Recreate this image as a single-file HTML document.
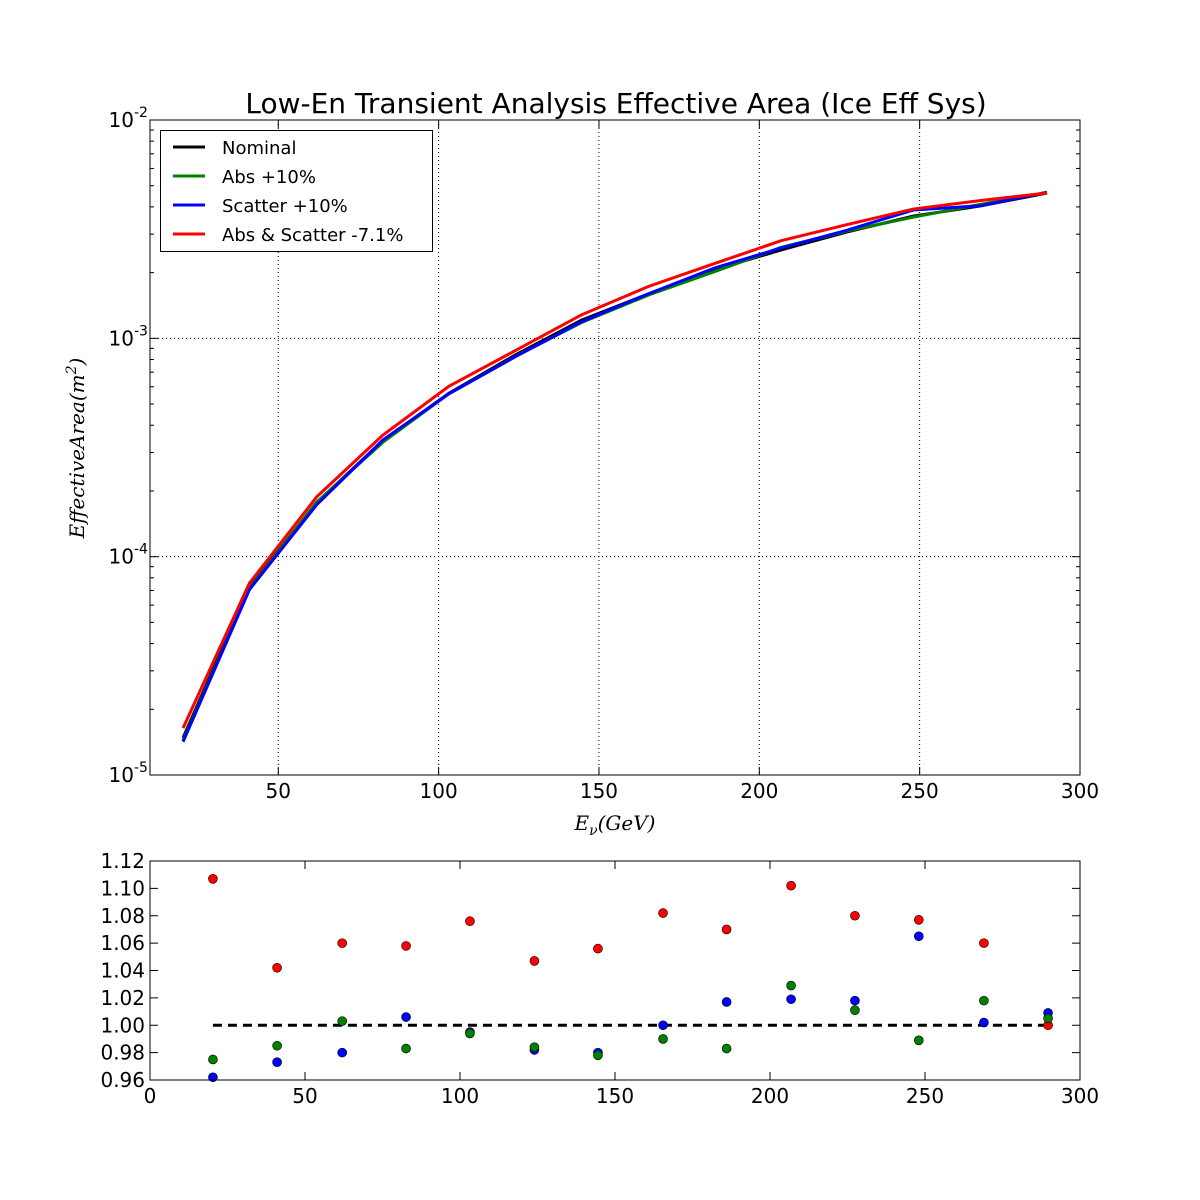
<!DOCTYPE html>
<html><head><meta charset="utf-8"><style>
html,body{margin:0;padding:0;background:#fff;}
svg{display:block;font-family:"DejaVu Sans","Liberation Sans",sans-serif;}
</style></head><body>
<svg id="chart" width="1200" height="1200" viewBox="0 0 1200 1200">
<rect x="0" y="0" width="1200" height="1200" fill="#fff"/>
<text x="616" y="113" font-size="28" text-anchor="middle">Low-En Transient Analysis Effective Area (Ice Eff Sys)</text>
<g id="topPanel"></g>
<g id="botPanel"></g>
<text x="615" y="830" font-size="20" font-style="italic" font-family="DejaVu Serif,serif" text-anchor="middle">E<tspan font-size="14" dy="5">ν</tspan><tspan dy="-5">(GeV)</tspan></text>
<text transform="translate(84,448) rotate(-90)" font-size="20" font-style="italic" font-family="DejaVu Serif,serif" text-anchor="middle">EffectiveArea(m<tspan font-size="14" dy="-8">2</tspan><tspan dy="8">)</tspan></text>
</svg>
<script>
const energies=[20.3,41,62,82.6,103.2,124,144.5,165.5,186,206.8,227.4,248,269,289.7];
const nominal=[1.48e-5,7.26e-5,1.77e-4,3.4e-4,5.6e-4,8.4e-4,1.21e-3,1.6e-3,2.06e-3,2.54e-3,3.07e-3,3.63e-3,4.04e-3,4.63e-3];
const absPlus=[1.44e-5,7.15e-5,1.78e-4,3.34e-4,5.57e-4,8.27e-4,1.18e-3,1.58e-3,2.02e-3,2.61e-3,3.1e-3,3.59e-3,4.11e-3,4.65e-3];
const scatPlus=[1.42e-5,7.06e-5,1.73e-4,3.42e-4,5.57e-4,8.25e-4,1.19e-3,1.6e-3,2.1e-3,2.59e-3,3.13e-3,3.87e-3,4.05e-3,4.67e-3];
const absScat=[1.64e-5,7.56e-5,1.88e-4,3.6e-4,6.03e-4,8.8e-4,1.28e-3,1.73e-3,2.2e-3,2.8e-3,3.32e-3,3.91e-3,4.28e-3,4.63e-3];
const ratioRed=[1.107,1.042,1.060,1.058,1.076,1.047,1.056,1.082,1.070,1.102,1.080,1.077,1.060,1.000];
const ratioBlue=[0.962,0.973,0.980,1.006,0.995,0.982,0.980,1.000,1.017,1.019,1.018,1.065,1.002,1.009];
const ratioGreen=[0.975,0.985,1.003,0.983,0.994,0.984,0.978,0.990,0.983,1.029,1.011,0.989,1.018,1.005];
const topXTicks=[50,100,150,200,250,300];
const botXTicks=[0,50,100,150,200,250,300];
const botYTicks=[0.96,0.98,1.00,1.02,1.04,1.06,1.08,1.10,1.12];
const decades=[-5,-4,-3,-2];

const NS="http://www.w3.org/2000/svg";
function mk(p,t,a){const e=document.createElementNS(NS,t);for(const k in a)e.setAttribute(k,a[k]);p.appendChild(e);return e;}
const T={l:150,r:1080,t:120,b:775};
const B={l:150,r:1080,t:861,b:1080};
const tx=v=>T.l+(v-10)/(300-10)*(T.r-T.l);
const ty=v=>T.t+(-2-Math.log10(v))/3*(T.b-T.t);
const bx=v=>B.l+v/300*(B.r-B.l);
const by=v=>B.b-(v-0.96)/0.16*(B.b-B.t);
const topG=document.getElementById('topPanel'),botG=document.getElementById('botPanel');

topXTicks.forEach(v=>{const x=tx(v);
 if(v<300){const g=mk(topG,'line',{x1:x,x2:x,y1:T.t,y2:T.b,stroke:'#000','stroke-dasharray':'1,3','stroke-width':1});
 }
 mk(topG,'line',{x1:x,x2:x,y1:T.b,y2:T.b-8,stroke:'#000'});mk(topG,'line',{x1:x,x2:x,y1:T.t,y2:T.t+8,stroke:'#000'});
 const t=mk(topG,'text',{x:x,y:T.b+23,'font-size':20,'text-anchor':'middle'});t.textContent=v;
 });
decades.forEach(d=>{const y=ty(Math.pow(10,d));
 if(d>-5&&d<-2){const g=mk(topG,'line',{x1:T.l,x2:T.r,y1:y,y2:y,stroke:'#000','stroke-dasharray':'1,3'});
 }
 mk(topG,'line',{x1:T.l,x2:T.l+8,y1:y,y2:y,stroke:'#000'});mk(topG,'line',{x1:T.r,x2:T.r-8,y1:y,y2:y,stroke:'#000'});
 const t=mk(topG,'text',{x:T.l-16,y:y+7,'font-size':20,'text-anchor':'end'});t.textContent='10';
 
 const s=mk(topG,'text',{x:T.l-16,y:y-3,'font-size':14,'text-anchor':'start'});s.textContent=String(d);
 
 if(d<-2)for(let m=2;m<10;m++){const yy=ty(m*Math.pow(10,d));
 mk(topG,'line',{x1:T.l,x2:T.l+4,y1:yy,y2:yy,stroke:'#000'});mk(topG,'line',{x1:T.r,x2:T.r-4,y1:yy,y2:yy,stroke:'#000'});}});
[[nominal,'#000','nominal-line'],[absPlus,'#008000','abs-plus-10-line'],[scatPlus,'#0000ff','scatter-plus-10-line'],[absScat,'#ff0000','abs-scatter-minus-7-line']].forEach(s=>{
 const p=mk(topG,'polyline',{points:energies.map((e,i)=>tx(e)+','+ty(s[0][i])).join(' '),fill:'none',stroke:s[1],'stroke-width':3});
 });
mk(topG,'rect',{x:T.l,y:T.t,width:T.r-T.l,height:T.b-T.t,fill:'none',stroke:'#000'});
const lg=mk(topG,'g',{});
mk(lg,'rect',{x:160.5,y:130.5,width:272,height:121,fill:'#fff',stroke:'#000'});
[['Nominal','#000'],['Abs +10%','#008000'],['Scatter +10%','#0000ff'],['Abs & Scatter -7.1%','#ff0000']].forEach((e,i)=>{
 const g=mk(lg,'g',{});
 const y=147+i*29;mk(g,'line',{x1:173,x2:205,y1:y,y2:y,stroke:e[1],'stroke-width':3});
 const t=mk(g,'text',{x:222,y:y+7,'font-size':18});t.textContent=e[0];});

botXTicks.forEach(v=>{const x=bx(v);
 mk(botG,'line',{x1:x,x2:x,y1:B.b,y2:B.b-8,stroke:'#000'});mk(botG,'line',{x1:x,x2:x,y1:B.t,y2:B.t+8,stroke:'#000'});
 const t=mk(botG,'text',{x:x,y:B.b+23,'font-size':20,'text-anchor':'middle'});t.textContent=v;
 });
botYTicks.forEach(v=>{const y=by(v);
 mk(botG,'line',{x1:B.l,x2:B.l+8,y1:y,y2:y,stroke:'#000'});mk(botG,'line',{x1:B.r,x2:B.r-8,y1:y,y2:y,stroke:'#000'});
 const t=mk(botG,'text',{x:B.l-5,y:y+7,'font-size':20,'text-anchor':'end'});t.textContent=v.toFixed(2);
 });
const ref=mk(botG,'line',{x1:bx(energies[0]),x2:bx(energies[energies.length-1]),y1:by(1),y2:by(1),stroke:'#000','stroke-width':3,'stroke-dasharray':'9,6'});

[[ratioRed,'#ff0000','ratio-point-abs-scatter'],[ratioBlue,'#0000ff','ratio-point-scatter'],[ratioGreen,'#008000','ratio-point-abs']].forEach(s=>{
 energies.forEach((e,i)=>{const c=mk(botG,'circle',{cx:bx(e),cy:by(s[0][i]),r:4.5,fill:s[1],stroke:'#000','stroke-width':0.6});
 });});
mk(botG,'rect',{x:B.l,y:B.t,width:B.r-B.l,height:B.b-B.t,fill:'none',stroke:'#000'});
</script>
</body></html>
